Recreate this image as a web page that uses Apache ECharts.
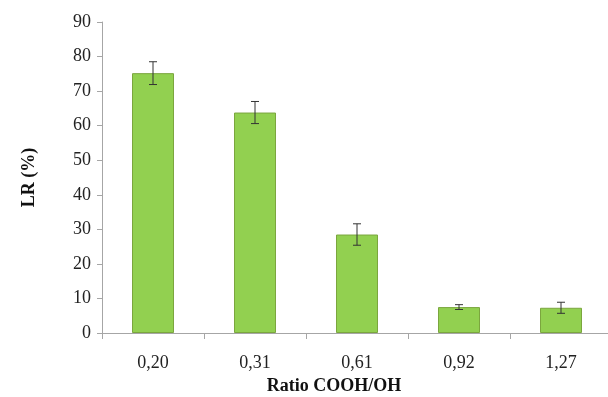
<!DOCTYPE html>
<html><head><meta charset="utf-8">
<script src="https://cdn.jsdelivr.net/npm/echarts@6/dist/echarts.min.js"></script>
<style>html,body{margin:0;padding:0;background:#fff}#c{width:608px;height:397px}</style>
</head><body><div id="c"></div>
<script>
const categories = ['0,20','0,31','0,61','0,92','1,27'];
const values = [75.2, 63.8, 28.5, 7.5, 7.3];
const errors = [3.3, 3.2, 3.1, 0.7, 1.6];
const yTicks = [0,10,20,30,40,50,60,70,80,90];

const chart = echarts.init(document.getElementById('c'));
const font = '"Liberation Serif","Times New Roman",serif';
chart.setOption({
  animation:false,
  grid:{left:102, top:22, width:510, height:311, containLabel:false, outerBoundsMode:'none'},
  xAxis:{type:'category', data:categories, boundaryGap:true,
    axisLine:{lineStyle:{color:'#a6a6a6', width:1}},
    axisTick:{show:true, length:6, lineStyle:{color:'#a6a6a6'}},
    axisLabel:{color:'#222', fontFamily:font, fontSize:18, margin:21},
    name:'Ratio COOH/OH', nameLocation:'middle', nameGap:44,
    nameTextStyle:{color:'#111', fontFamily:font, fontSize:18, fontWeight:'bold', padding:[0,46,0,0]}
  },
  yAxis:{type:'value', min:0, max:90, interval:10,
    axisLine:{show:true, lineStyle:{color:'#a6a6a6'}},
    axisTick:{show:true, length:5, lineStyle:{color:'#a6a6a6'}},
    splitLine:{show:false},
    axisLabel:{color:'#222', fontFamily:font, fontSize:18, margin:11, formatter:function(v){return yTicks.indexOf(v)>=0?String(v):'';}},
    name:'LR (%)', nameLocation:'middle', nameGap:64, nameRotate:90,
    nameTextStyle:{color:'#111', fontFamily:font, fontSize:18, fontWeight:'bold'}
  },
  series:[
    {type:'bar', data:values, barWidth:42,
     itemStyle:{color:'#92d050', borderColor:'#7ba63e', borderWidth:1}},
    {type:'custom', data:values.map((v,i)=>[i, v-errors[i], v+errors[i]]),
     renderItem:function(params, api){
       const lo = api.coord([api.value(0), api.value(1)]);
       const hi = api.coord([api.value(0), api.value(2)]);
       const x = lo[0], w = 4;
       const st = {stroke:'#333', lineWidth:1};
       return {type:'group', children:[
         {type:'line', shape:{x1:x,y1:lo[1],x2:x,y2:hi[1]}, style:st},
         {type:'line', shape:{x1:x-w,y1:lo[1],x2:x+w,y2:lo[1]}, style:st},
         {type:'line', shape:{x1:x-w,y1:hi[1],x2:x+w,y2:hi[1]}, style:st}
       ]};
     }, z:10}
  ]
});
</script></body></html>
